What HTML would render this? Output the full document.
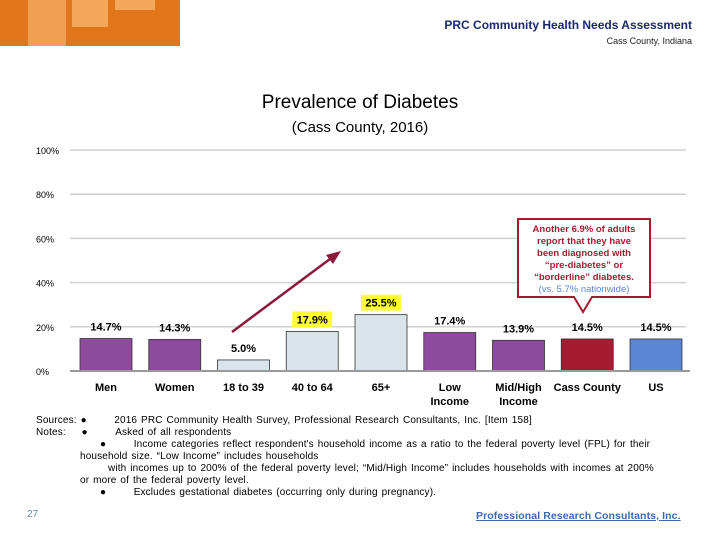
<!DOCTYPE html>
<html><head><meta charset="utf-8"><style>
body{margin:0;width:720px;height:540px;background:#fff;position:relative;overflow:hidden;font-family:"Liberation Sans",sans-serif;}
.a{position:absolute;}
.foot{font-size:10px;color:#000;line-height:12px;letter-spacing:0.15px;word-spacing:1px;white-space:nowrap}
</style></head><body>
<div class="a" style="left:0;top:0;width:180px;height:46px;background:#e2761b"></div>
<div class="a" style="left:28px;top:0;width:38px;height:46px;background:#f0a050"></div>
<div class="a" style="left:72px;top:0;width:36px;height:27px;background:#f4a75a"></div>
<div class="a" style="left:115px;top:0;width:40px;height:10px;background:#f4a75a"></div>
<div class="a" style="right:28px;top:18px;font-size:12px;font-weight:bold;color:#1a2a6c;">PRC Community Health Needs Assessment</div>
<div class="a" style="right:28px;top:36px;font-size:9px;color:#222;">Cass County, Indiana</div>
<div class="a" style="left:0;width:720px;text-align:center;top:92px;font-size:19px;">Prevalence of Diabetes</div>
<div class="a" style="left:0;width:720px;text-align:center;top:119px;font-size:15px;">(Cass County, 2016)</div>
<svg class="a" style="left:0;top:0" width="720" height="540" id="chart"></svg>
<div class="a foot" style="left:36px;top:415px;width:680px">
<div>Sources:&nbsp;&#9679;&nbsp;&nbsp;&nbsp;&nbsp;&nbsp;&nbsp;&nbsp;2016 PRC Community Health Survey, Professional Research Consultants, Inc. [Item 158]</div>
<div>Notes:&nbsp;&nbsp;&nbsp;&nbsp;&#9679;&nbsp;&nbsp;&nbsp;&nbsp;&nbsp;&nbsp;&nbsp;Asked of all respondents</div>
<div style="padding-left:64px">&#9679;&nbsp;&nbsp;&nbsp;&nbsp;&nbsp;&nbsp;&nbsp;Income categories reflect respondent's household income as a ratio to the federal poverty level (FPL) for their</div>
<div style="padding-left:44px">household size. “Low Income” includes households</div>
<div style="padding-left:72px">with incomes up to 200% of the federal poverty level; “Mid/High Income” includes households with incomes at 200%</div>
<div style="padding-left:44px">or more of the federal poverty level.</div>
<div style="padding-left:64px">&#9679;&nbsp;&nbsp;&nbsp;&nbsp;&nbsp;&nbsp;&nbsp;Excludes gestational diabetes (occurring only during pregnancy).</div>
</div>
<div class="a" style="left:27px;top:509px;font-size:10px;color:#6a8ab0">27</div>
<div class="a" style="left:476px;top:510px;font-size:10.5px;font-weight:bold;color:#3a6ab0;text-decoration:underline;letter-spacing:0.1px">Professional Research Consultants, Inc.</div>
<script>
const categories=["Men","Women","18 to 39","40 to 64","65+","Low|Income","Mid/High|Income","Cass County","US"];
const values=[14.7,14.3,5.0,17.9,25.5,17.4,13.9,14.5,14.5];
const colors=["#8e4a9c","#8e4a9c","#d9e5ea","#d9e5ea","#d9e5ea","#8e4a9c","#8e4a9c","#a51c30","#5b86d6"];
const highlight=[false,false,false,true,true,false,false,false,false];
const ticks=[0,20,40,60,80,100];
const NS="http://www.w3.org/2000/svg";
const svg=document.getElementById('chart');
const y=v=>371-v*2.21;
const x=i=>80+i*68.75;
const bw=52;
function mk(t,a,txt){const e=document.createElementNS(NS,t);for(const k in a)e.setAttribute(k,a[k]);if(txt!=null)e.textContent=txt;svg.appendChild(e);return e;}
ticks.forEach(t=>{
 if(t>0){const g=mk('line',{x1:70,x2:686,y1:y(t),y2:y(t),stroke:'#d0d0d0','stroke-width':1.5});
 
 }
 const l=mk('text',{x:36,y:y(t)+4,'font-size':9,'font-family':'Liberation Sans'},t+'%');
 
 
});
values.forEach((v,i)=>{
 const r=mk('rect',{x:x(i),y:y(v),width:bw,height:y(0)-y(v),fill:colors[i],stroke:'#333','stroke-width':0.8});
 
 
 const lbl=v.toFixed(1)+'%';const ty=y(v)-8;
 if(highlight[i]){const h=mk('rect',{x:x(i)+bw/2-20,y:ty-12,width:40,height:16,fill:'#ffff33'});
 
 }
 const t=mk('text',{x:x(i)+bw/2,y:ty,'text-anchor':'middle','font-size':11,'font-weight':'bold'},lbl);
 
 
 categories[i].split('|').forEach((p,j)=>{
  const c=mk('text',{x:x(i)+bw/2,y:391+j*14,'text-anchor':'middle','font-size':11,'font-weight':'bold'},p);
  
  
 });
});
const ax=mk('line',{x1:70,x2:690,y1:y(0),y2:y(0),stroke:'#999','stroke-width':2});


const ar=mk('line',{x1:232,y1:332,x2:334,y2:256,stroke:'#8b1a3a','stroke-width':2.5});


const ah=mk('polygon',{points:'341,251 326,255 333,264',fill:'#8b1a3a'});


const cb=mk('path',{d:'M518,219 H650 V297 H592 L583,312 L574,297 H518 Z',fill:'#fff',stroke:'#a51c30','stroke-width':2});


["Another 6.9% of adults","report that they have","been diagnosed with","“pre-diabetes” or","“borderline” diabetes."].forEach((s,j)=>{
 const t=mk('text',{x:584,y:232+j*12,'text-anchor':'middle','font-size':9.5,'font-weight':'bold',fill:'#a51c30'},s);
 
 
});
const cn=mk('text',{x:584,y:292,'text-anchor':'middle','font-size':9.5,fill:'#5b86d6'},'(vs. 5.7% nationwide)');


</script>
</body></html>
